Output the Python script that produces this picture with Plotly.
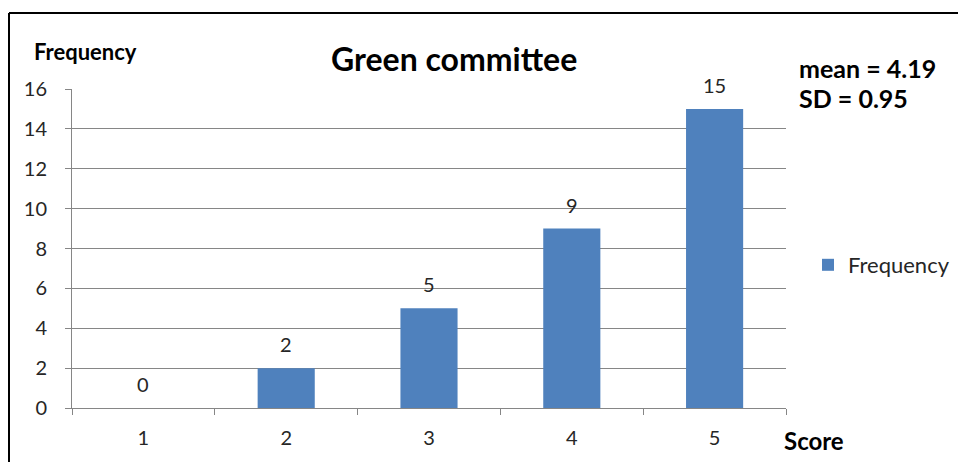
import plotly.graph_objects as go

scores = ["1", "2", "3", "4", "5"]
frequency = [0, 2, 5, 9, 15]
y_ticks = [0, 2, 4, 6, 8, 10, 12, 14, 16]
mean_text = "mean = 4.19"
sd_text = "SD = 0.95"

FONT = "Lato, 'Open Sans', sans-serif"
W, H = 958, 462
L, R, T, B = 72, 172, 89, 54
PW, PH = W - L - R, H - T - B


def px(x):
    return (x - L) / PW


def py(y):
    return (H - B - y) / PH


fig = go.Figure()
fig.add_trace(go.Bar(
    x=scores,
    y=frequency,
    name="Frequency",
    marker=dict(color="#4F81BD", line=dict(width=0)),
    width=0.4,
))

# value labels above each bar (category index as x position)
for i, v in enumerate(frequency):
    fig.add_annotation(x=i, y=v, xref="x", yref="y", text=str(v),
                       showarrow=False, yanchor="bottom", yshift=10,
                       font=dict(family=FONT, size=20, color="#262626"))

fig.update_layout(
    width=W, height=H,
    margin=dict(l=L, r=R, t=T, b=B, autoexpand=False),
    paper_bgcolor="white", plot_bgcolor="white",
    showlegend=True,
    legend=dict(xref="container", yref="container",
                x=808 / W, y=(H - 265) / H, xanchor="left", yanchor="middle",
                font=dict(family=FONT, size=22, color="#262626"),
                bgcolor="rgba(0,0,0,0)"),
    xaxis=dict(
        type="category", tickson="boundaries",
        ticks="outside", ticklen=6, tickcolor="#868686",
        showline=True, linecolor="#868686", linewidth=1,
        showgrid=False, automargin=False,
        ticklabelstandoff=12,
        tickfont=dict(family=FONT, size=20, color="#262626"),
        range=[-0.5, 4.5],
    ),
    yaxis=dict(
        range=[0, 16], tickvals=y_ticks,
        ticks="outside", ticklen=6, tickcolor="#868686",
        showline=True, linecolor="#868686", linewidth=1,
        showgrid=True, gridcolor="#868686", gridwidth=1,
        zeroline=False, automargin=False,
        ticklabelstandoff=14,
        tickfont=dict(family=FONT, size=20, color="#262626"),
    ),
    bargap=0.6,
)

annots = [
    dict(text="<b>Green committee</b>", x=px(454), y=py(58), size=32),
    dict(text="<b>Frequency</b>", x=px(85), y=py(52), size=22),
    dict(text="<b>Score</b>", x=px(814), y=py(440), size=24),
]
for a in annots:
    fig.add_annotation(text=a["text"], x=a["x"], y=a["y"], xref="paper", yref="paper",
                       xanchor="center", yanchor="middle", showarrow=False,
                       font=dict(family=FONT, size=a["size"], color="black"))

for txt, yy in [(mean_text, 68), (sd_text, 98)]:
    fig.add_annotation(text=f"<b>{txt}</b>", x=px(797), y=py(yy), xref="paper", yref="paper",
                       xanchor="left", yanchor="middle", showarrow=False,
                       font=dict(family=FONT, size=25, color="black"))

# outer frame (top and left edges)
fig.add_shape(type="line", xref="paper", yref="paper",
              x0=px(9), x1=px(958), y0=py(13), y1=py(13),
              line=dict(color="black", width=2))
fig.add_shape(type="line", xref="paper", yref="paper",
              x0=px(9), x1=px(9), y0=py(13), y1=py(462),
              line=dict(color="black", width=2))

fig.write_html("out.html")
